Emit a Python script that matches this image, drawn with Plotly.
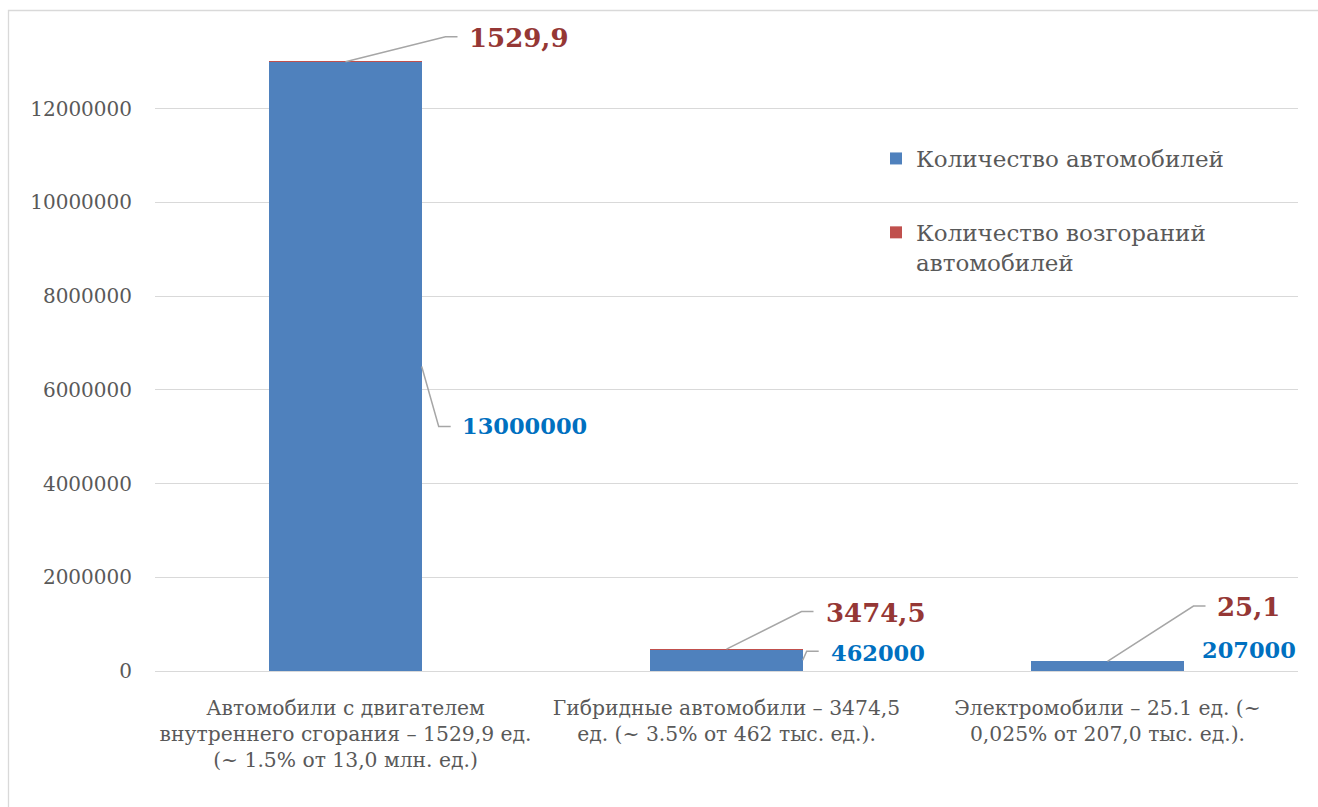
import plotly.graph_objects as go

categories = [
    "Автомобили с двигателем<br>внутреннего сгорания – 1529,9 ед.<br>(~ 1.5% от 13,0 млн. ед.)",
    "Гибридные автомобили – 3474,5<br>ед. (~ 3.5% от 462 тыс. ед.).",
    "Электромобили – 25.1 ед. (~<br>0,025% от 207,0 тыс. ед.).",
]
cars = [13000000, 462000, 207000]
fires = [1529.9, 3474.5, 25.1]
fires_text = ["1529,9", "3474,5", "25,1"]
cars_text = ["13000000", "462000", "207000"]
y_ticks = [0, 2000000, 4000000, 6000000, 8000000, 10000000, 12000000]

FONT = "DejaVu Serif"
GRAY = "#595959"
GRID = "#D9D9D9"
BLUE = "#4F81BD"
RED = "#C0504D"
LBL_BLUE = "#0070C0"
LBL_RED = "#953735"
LEADER = "#A6A6A6"

W, H = 1318, 807
ML, MR, MT, MB = 155, 20, 15, 136
PW = W - ML - MR
PH = H - MT - MB
idx = list(range(len(categories)))
bargap = 0.6
half_bar_px = (1 - bargap) * PW / len(categories) / 2

fig = go.Figure()
fig.add_trace(go.Bar(x=idx, y=cars, name="Количество автомобилей",
                     marker=dict(color=BLUE, line=dict(width=0)), legendgroup="a"))
fig.add_trace(go.Bar(x=idx, y=fires, name="Количество возгораний<br>автомобилей",
                     marker=dict(color=RED, line=dict(width=0)), legendgroup="b"))

# label offsets (pixels): leader path points and text position
red_leader = [[(0, 0), (100, 25), (112, 25)], [(0, 0), (75, 37.6), (87, 37.6)], [(0, 0), (86, 55.3), (98, 55.3)]]
red_text = [(121, 24), (97, 36), (107, 54.5)]
blue_leader = [[(0, 0), (17, -60), (29, -60)], [(0, 0), (4, 9), (16, 9)], None]
blue_text = [(38, -60), (26, 7), (16, 16)]

shapes = []
annotations = []
for i in idx:
    top = cars[i] + fires[i]
    pts = red_leader[i]
    path = "M" + " L".join(f"{x},{y}" for x, y in pts)
    shapes.append(dict(type="path", xref="x", yref="y", xsizemode="pixel", ysizemode="pixel",
                       xanchor=i, yanchor=top, path=path, line=dict(color=LEADER, width=1.5)))
    annotations.append(dict(x=i, y=top, xref="x", yref="y", text=f"<b>{fires_text[i]}</b>",
                            showarrow=False, xanchor="left", yanchor="middle",
                            xshift=red_text[i][0], yshift=red_text[i][1],
                            font=dict(family=FONT, size=26, color=LBL_RED)))
    mid = cars[i] / 2
    if blue_leader[i]:
        path = "M" + " L".join(f"{x + half_bar_px},{y}" for x, y in blue_leader[i])
        shapes.append(dict(type="path", xref="x", yref="y", xsizemode="pixel", ysizemode="pixel",
                           xanchor=i, yanchor=mid, path=path, line=dict(color=LEADER, width=1.5)))
    annotations.append(dict(x=i, y=mid, xref="x", yref="y", text=f"<b>{cars_text[i]}</b>",
                            showarrow=False, xanchor="left", yanchor="middle",
                            xshift=half_bar_px + blue_text[i][0], yshift=blue_text[i][1],
                            font=dict(family=FONT, size=22.5, color=LBL_BLUE)))

# chart border
shapes.append(dict(type="rect", xref="paper", yref="paper",
                   x0=(8.5 - ML) / PW, x1=(W + 20 - ML) / PW,
                   y0=(PH + MT - 10.5) / PH, y1=(PH + MT - H - 30) / PH,
                   line=dict(color=GRID, width=1.3), layer="below"))

fig.update_layout(
    width=W, height=H,
    margin=dict(l=ML, r=MR, t=MT, b=MB),
    paper_bgcolor="white", plot_bgcolor="white",
    barmode="stack", bargap=bargap,
    font=dict(family=FONT, size=20, color=GRAY),
    showlegend=True,
    legend=dict(x=(876 - ML) / PW, y=(PH + MT - 137) / PH, xanchor="left", yanchor="top",
                font=dict(family=FONT, size=23, color=GRAY), valign="top",
                tracegroupgap=41, traceorder="grouped", bgcolor="rgba(0,0,0,0)"),
    xaxis=dict(tickmode="array", tickvals=idx, ticktext=categories, range=[-0.5, 2.5],
               showgrid=False, showline=True, linecolor=GRID, linewidth=1.3, ticks="",
               ticklabelstandoff=18,
               tickfont=dict(family=FONT, size=20.3, color=GRAY), zeroline=False),
    yaxis=dict(range=[0, 14000000], tickmode="array", tickvals=y_ticks,
               ticktext=[str(v) for v in y_ticks], showgrid=True, gridcolor=GRID, gridwidth=1.3,
               zeroline=False, showline=False, ticks="", ticklabelstandoff=22,
               tickfont=dict(family=FONT, size=20, color=GRAY)),
    shapes=shapes, annotations=annotations,
)
fig.write_html("out.html")
